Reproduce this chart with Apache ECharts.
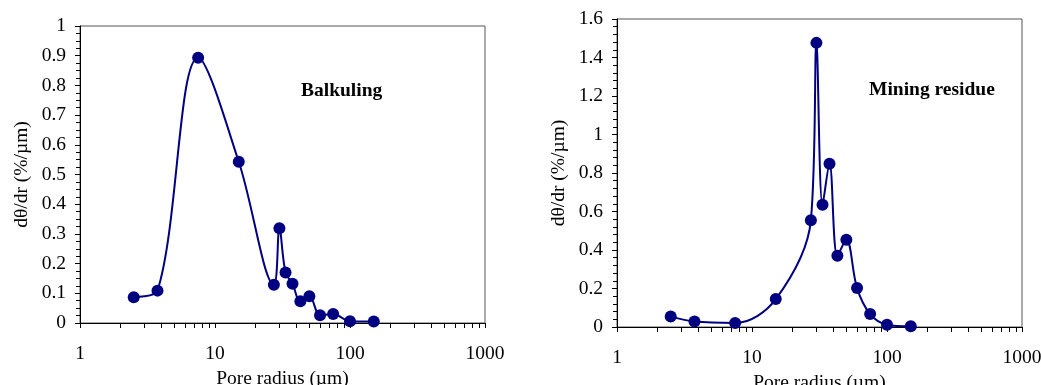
<!DOCTYPE html>
<html>
<head>
<meta charset="utf-8">
<script src="https://cdn.jsdelivr.net/npm/echarts@6/dist/echarts.min.js"></script>
<style>html,body{margin:0;padding:0;background:#fff}#c{width:1041px;height:385px}</style>
</head>
<body>
<div id="c"></div>
<script>
const poreRadius = [2.5, 3.75, 7.5, 15, 27.3, 30, 33.3, 37.5, 42.9, 50, 60, 75, 100, 150];
const balkuling = [0.087, 0.109, 0.893, 0.543, 0.129, 0.319, 0.170, 0.132, 0.073, 0.090, 0.026, 0.030, 0.006, 0.005];
const miningResidue = [0.055, 0.028, 0.021, 0.145, 0.554, 1.476, 0.635, 0.848, 0.370, 0.453, 0.202, 0.067, 0.012, 0.004];
const xTickValues = [1,2,3,4,5,6,7,8,9,10,20,30,40,50,60,70,80,90,100,200,300,400,500,600,700,800,900,1000];
const xLabelValues = [1, 10, 100, 1000];
const panelTitles = ['Balkuling', 'Mining residue'];
const xTitle = 'Pore radius (µm)';
const yTitle = 'dθ/dr (%/µm)';

const FONT = 'Liberation Serif';
const COLOR = '#000080';
const FS = 19.5;
const txt = {fontFamily: FONT, fontSize: FS, color: '#000'};

function xAxisCfg(gi) {
  return {
    type: 'log', logBase: 10, min: 1, max: 1000, gridIndex: gi,
    axisLine: {show: true, lineStyle: {color: '#000', width: 1}},
    axisTick: {show: true, length: 5, customValues: xTickValues, lineStyle: {color: '#000'}},
    axisLabel: Object.assign({margin: 21, customValues: xLabelValues, formatter: v => String(Math.round(v))}, txt),
    splitLine: {show: false},
    name: xTitle, nameLocation: 'middle', nameGap: 45,
    nameTextStyle: txt
  };
}
function yAxisCfg(gi, max, interval, minorSplit) {
  return {
    type: 'value', min: 0, max: max, interval: interval, gridIndex: gi,
    axisLine: {show: true, lineStyle: {color: '#000', width: 1}},
    axisTick: {show: true, length: 5, lineStyle: {color: '#000'}},
    minorTick: {show: true, splitNumber: minorSplit, length: 4, lineStyle: {color: '#000'}},
    axisLabel: Object.assign({margin: 14}, txt),
    splitLine: {show: false},
    name: yTitle, nameLocation: 'middle', nameGap: 48, nameRotate: 90,
    nameTextStyle: txt
  };
}
function seriesCfg(gi, ys) {
  return {
    type: 'line', xAxisIndex: gi, yAxisIndex: gi,
    data: poreRadius.map((x, i) => [x, ys[i]]),
    smooth: 0.35,
    symbol: 'circle', symbolSize: 12,
    lineStyle: {color: COLOR, width: 2},
    itemStyle: {color: COLOR},
    animation: false
  };
}

const chart = echarts.init(document.getElementById('c'), null, {renderer: 'canvas'});
chart.setOption({
  animation: false,
  title: [
    {text: panelTitles[0], left: 296, top: 76, textStyle: {fontFamily: FONT, fontSize: FS, fontWeight: 'bold', color: '#000'}},
    {text: panelTitles[1], left: 864, top: 75, textStyle: {fontFamily: FONT, fontSize: FS, fontWeight: 'bold', color: '#000'}}
  ],
  grid: [
    {left: 80, top: 26, width: 405, height: 297, show: true, borderColor: '#555', borderWidth: 1, outerBoundsMode: 'none', containLabel: false},
    {left: 617, top: 19, width: 405, height: 308, show: true, borderColor: '#555', borderWidth: 1, outerBoundsMode: 'none', containLabel: false}
  ],
  xAxis: [xAxisCfg(0), xAxisCfg(1)],
  yAxis: [yAxisCfg(0, 1, 0.1, 4), yAxisCfg(1, 1.6, 0.2, 5)],
  series: [seriesCfg(0, balkuling), seriesCfg(1, miningResidue)]
});
</script>
</body>
</html>
